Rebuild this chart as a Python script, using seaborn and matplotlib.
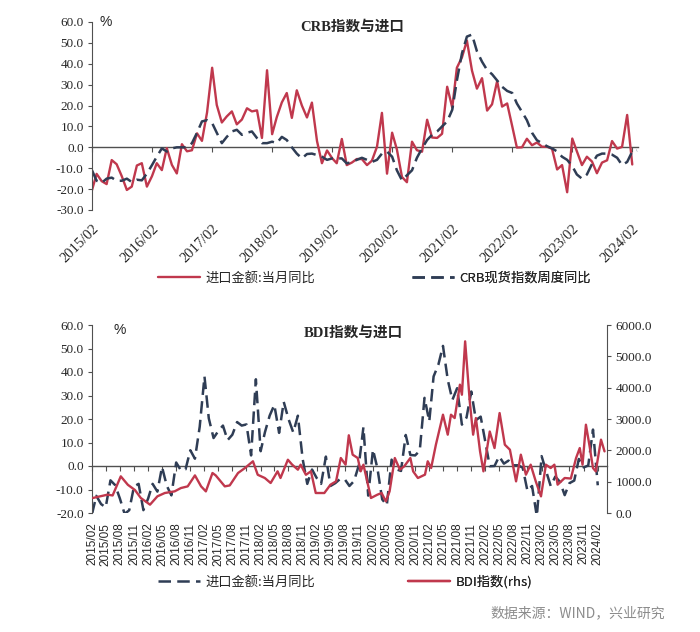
"""
CRB / BDI vs China import YoY -- two stacked panels.
Writes out.png (700x632).
"""

import pandas as pd
import matplotlib
matplotlib.use("Agg")
import matplotlib.pyplot as plt
from matplotlib.ticker import FormatStrFormatter
import matplotlib.dates as mdates
import seaborn as sns

# ---------------------------------------------------------------------------
# Data
# ---------------------------------------------------------------------------
MONTHS = pd.date_range("2015-02-01", "2024-03-01", freq="MS")

# import value, YoY % (monthly, 2015/02 - 2024/02)
import_yoy = [
    -20.5, -12.7, -16.2, -17.6, -6.1, -8.1, -13.8, -20.4, -18.8, -8.7, -7.6,
    -18.8, -13.8, -7.6, -10.9, -0.4, -8.4, -12.5, 1.5, -1.9, -1.4, 6.7, 3.1,
    16.7, 38.1, 20.3, 11.9, 14.8, 17.2, 11.0, 13.3, 18.7, 17.2, 17.7, 4.5,
    36.9, 6.3, 14.4, 21.5, 26.0, 14.1, 27.3, 20.0, 14.3, 21.4, 3.0, -7.6,
    -1.5, -5.2, -7.6, 4.0, -8.5, -7.3, -5.6, -5.6, -8.5, -6.4, 0.3, 16.5,
    -12.6, 7.0, -1.0, -14.2, -16.7, 2.7, -1.4, -2.1, 13.2, 4.7, 4.5, 6.5,
    29.0, 19.0, 38.1, 43.1, 51.1, 36.7, 28.1, 33.1, 17.6, 20.6, 31.7, 19.5,
    21.0, 10.0, -0.1, 0.0, 4.1, 1.0, 2.3, 0.3, 0.3, -0.7, -10.6, -8.5,
    -21.5, 4.2, -1.9, -8.5, -4.5, -6.8, -12.4, -7.3, -6.2, 3.0, -0.6, 0.2,
    15.5, -8.2,
]

# CRB spot index, YoY % (2015/02 - 2024/03)
crb_yoy = [
    -11, -16, -17, -15, -14.5, -16, -16, -15, -16.6, -15.5, -15.8,
    -12.6, -8.5, -4.5, -0.5, -2, -0.5, 0, 0, 0, 2, 7, 12.4,
    13, 11.6, 7, 2, 5, 7.6, 8.4, 6, 7, 7.6, 4.4, 2,
    2, 2.7, 2, 5, 3.5, 0, -3, -5.3, -3.2, -3, -3.7, -4.5,
    -6, -5.3, -5.3, -5.3, -7.7, -7, -6, -5, -6, -7, -6, -3,
    -2, -4.5, -11, -15.8, -13.4, -11, -5, -0.5, 3.5, 6, 7.6, 10,
    12.4, 18, 32, 45, 53, 54, 46, 41, 37, 35, 32, 29,
    27, 26, 21, 17, 13, 7, 3.4, 2, 0.5, -0.5, -2, -4.5,
    -6, -9, -13, -15, -13, -8, -4, -3, -3, -3.5, -5, -8.5,
    -7, -2, -1.5,
]

# Baltic Dry Index (rhs)
bdi_dates = [
    "2015-02-07", "2015-05-13", "2015-06-15", "2015-08-07", "2015-09-22", "2015-11-07", "2015-12-15",
    "2016-02-13", "2016-04-01", "2016-05-19", "2016-07-22", "2016-09-01", "2016-10-15", "2016-12-01",
    "2017-01-10", "2017-02-10", "2017-03-25", "2017-04-15", "2017-06-13", "2017-07-15", "2017-09-07",
    "2017-10-22", "2017-12-13",
    "2018-01-13", "2018-02-28", "2018-04-07", "2018-05-22", "2018-06-10", "2018-07-28", "2018-08-25",
    "2018-10-01", "2018-10-19", "2018-11-22", "2018-12-25",
    "2019-01-25", "2019-03-22", "2019-05-01", "2019-06-06", "2019-07-07", "2019-08-07", "2019-08-28",
    "2019-09-22", "2019-10-25", "2019-11-13", "2019-12-01",
    "2020-01-19", "2020-03-01", "2020-03-28", "2020-04-25", "2020-05-19", "2020-06-22", "2020-07-25",
    "2020-08-22", "2020-10-01", "2020-10-19", "2020-11-19",
    "2021-01-04", "2021-01-22", "2021-02-13", "2021-03-16", "2021-05-01", "2021-06-01", "2021-06-22",
    "2021-07-16", "2021-08-19", "2021-09-01", "2021-09-22", "2021-10-22", "2021-11-13", "2021-12-01",
    "2021-12-28",
    "2022-01-19", "2022-03-01", "2022-04-01", "2022-05-04", "2022-06-07", "2022-07-10", "2022-08-19",
    "2022-09-19", "2022-10-22", "2022-11-22", "2022-12-25",
    "2023-01-28", "2023-03-01", "2023-04-01", "2023-04-25", "2023-05-16", "2023-07-01", "2023-08-10",
    "2023-09-13", "2023-10-07", "2023-10-25", "2023-11-16", "2023-12-10",
    "2024-01-01", "2024-01-19", "2024-02-22", "2024-03-16",
]
bdi_values = [
    480, 585, 560, 1170, 900, 734, 480,
    266, 532, 638, 691, 797, 850, 1200,
    850, 690, 1276, 1200, 850, 880, 1276, 1435, 1650,
    1220, 1117, 957, 1330, 1117, 1700, 1542, 1383, 1542, 1220, 1330,
    638, 638, 904, 1010, 1755, 1542, 2480, 1861, 1755, 1330, 1542,
    479, 585, 638, 372, 691, 1755, 1383, 1489, 1755, 1330, 1117,
    1224, 1650, 1435, 2180, 3137, 2500, 3137, 3030, 4095, 3775, 5478, 3562, 2500, 3030, 1967,
    1330, 2600, 2073, 3190, 2180, 2020, 1010, 1861, 1223, 1542, 1010,
    532, 1542, 1435, 1542, 904, 1117, 1100, 1755, 2073, 1542, 2818, 2127,
    1435, 1330, 2340, 1967,
]

TITLE_TOP = "CRB指数与进口"
TITLE_BOTTOM = "BDI指数与进口"
LBL_IMPORT = "进口金额:当月同比"
LBL_CRB = "CRB现货指数周度同比"
LBL_BDI = "BDI指数(rhs)"
SOURCE = "数据来源：WIND，兴业研究"

# ---------------------------------------------------------------------------
# Styling
# ---------------------------------------------------------------------------
sns.set_style("ticks")
plt.rcParams["font.family"] = ["Liberation Serif", "Noto Sans CJK SC", "DejaVu Sans"]

RED = "#C0384D"
NAVY = "#2F3D55"
AXIS = "#505050"
DASH = (0, (5, 2.5))
W, H = 700, 632
CJK = ["Liberation Serif", "Noto Sans CJK SC"]


def style_axis(ax, zero_frac, tick_dates):
    """Excel look: left spine only, horizontal axis line sitting at y=0."""
    for side in ["top", "right", "bottom"]:
        ax.spines[side].set_visible(False)
    ax.spines["left"].set_color(AXIS)
    ax.tick_params(axis="y", direction="out", length=3, color=AXIS,
                   labelsize=9.5, pad=3)
    ax.tick_params(axis="x", length=0)
    ax.yaxis.set_major_formatter(FormatStrFormatter("%.1f"))
    ax.set_xlabel("")
    ax.set_ylabel("")

    zero = ax.secondary_xaxis(zero_frac)
    zero.set_xticks(mdates.date2num(tick_dates))
    zero.tick_params(length=3.5, color=AXIS, labelbottom=False)
    zero.spines["bottom"].set_color(AXIS)
    zero.spines["bottom"].set_linewidth(1.0)


def add_legend(ax, line, text, x, y):
    leg = ax.legend(handles=[line], labels=[text], loc="center left",
                    bbox_to_anchor=(x / W, 1 - y / H), bbox_transform=ax.figure.transFigure,
                    frameon=False, handlelength=3.2, handletextpad=0.4,
                    prop={"family": ["Noto Sans CJK SC"], "size": 9.5})
    ax.add_artist(leg)


fig = plt.figure(figsize=(W / 100, H / 100), dpi=100)

# ===== Panel 1: CRB vs imports ===============================================
ax1 = fig.add_axes([92 / W, 1 - 210 / H, 546 / W, 188 / H])
imp_df = pd.DataFrame({"date": MONTHS[:len(import_yoy)], "value": import_yoy})
crb_df = pd.DataFrame({"date": MONTHS[:len(crb_yoy)], "value": crb_yoy})

sns.lineplot(data=imp_df, x="date", y="value", color=RED, lw=1.7, ax=ax1, legend=False)
sns.lineplot(data=crb_df, x="date", y="value", color=NAVY, lw=1.8, linestyle=DASH,
             ax=ax1, legend=False)
line_imp, line_crb = ax1.lines[0], ax1.lines[1]

ax1.set_ylim(-30, 60)
ax1.set_yticks(range(-30, 61, 10))
ax1.set_xlim(MONTHS[0], pd.Timestamp("2024-03-07"))
year_ticks = pd.date_range("2015-02-01", "2024-02-01", freq="12MS")
style_axis(ax1, 30 / 90, year_ticks)
ax1.set_xticks(year_ticks)
ax1.set_xticklabels([d.strftime("%Y/%m") for d in year_ticks], fontsize=10.5)
plt.setp(ax1.get_xticklabels(), rotation=45, ha="right", rotation_mode="anchor")
ax1.tick_params(axis="x", pad=9)

fig.text(352 / W, 1 - 27 / H, TITLE_TOP, ha="center", va="center",
         fontsize=10.5, fontweight="bold", family=CJK)
fig.text(100 / W, 1 - 22 / H, "%", ha="left", va="center", fontsize=10,
         family=["Liberation Sans"])
add_legend(ax1, line_imp, LBL_IMPORT, 146, 278)
add_legend(ax1, line_crb, LBL_CRB, 400, 278)

# ===== Panel 2: BDI vs imports ===============================================
ax2 = fig.add_axes([92 / W, 1 - 513 / H, 515 / W, 188 / H])
ax2r = ax2.twinx()
bdi_df = pd.DataFrame({"date": pd.to_datetime(bdi_dates), "value": bdi_values})

sns.lineplot(data=imp_df, x="date", y="value", color=NAVY, lw=1.8, linestyle=DASH,
             ax=ax2, legend=False)
sns.lineplot(data=bdi_df, x="date", y="value", color=RED, lw=1.7, ax=ax2r, legend=False)
line_imp2, line_bdi = ax2.lines[0], ax2r.lines[0]

ax2.set_ylim(-20, 60)
ax2.set_yticks(range(-20, 61, 10))
ax2.set_xlim(MONTHS[0], pd.Timestamp("2024-04-01"))
q_ticks = pd.date_range("2015-02-01", "2024-02-01", freq="3MS")
style_axis(ax2, 20 / 80, q_ticks)
ax2.set_xticks(q_ticks)
ax2.set_xticklabels([d.strftime("%Y/%m") for d in q_ticks], rotation=90,
                    fontsize=8.5, family="Liberation Sans")
ax2.tick_params(axis="x", pad=7)

ax2r.set_ylim(0, 6000)
ax2r.set_yticks(range(0, 6001, 1000))
ax2r.yaxis.set_major_formatter(FormatStrFormatter("%.1f"))
for side in ["top", "left", "bottom"]:
    ax2r.spines[side].set_visible(False)
ax2r.spines["right"].set_color(AXIS)
ax2r.tick_params(axis="y", direction="out", length=3, color=AXIS, labelsize=9.5, pad=3)
ax2r.set_ylabel("")

fig.text(353 / W, 1 - 333 / H, TITLE_BOTTOM, ha="center", va="center",
         fontsize=10.5, fontweight="bold", family=CJK)
fig.text(114 / W, 1 - 330 / H, "%", ha="left", va="center", fontsize=10,
         family=["Liberation Sans"])
add_legend(ax2, line_imp2, LBL_IMPORT, 146, 582)
add_legend(ax2, line_bdi, LBL_BDI, 396, 582)

fig.text(665 / W, 1 - 613 / H, SOURCE, ha="right", va="center", fontsize=10,
         color="#8C8C8C", family=["Noto Sans CJK SC"])

fig.savefig("out.png", dpi=100)
plt.close(fig)
